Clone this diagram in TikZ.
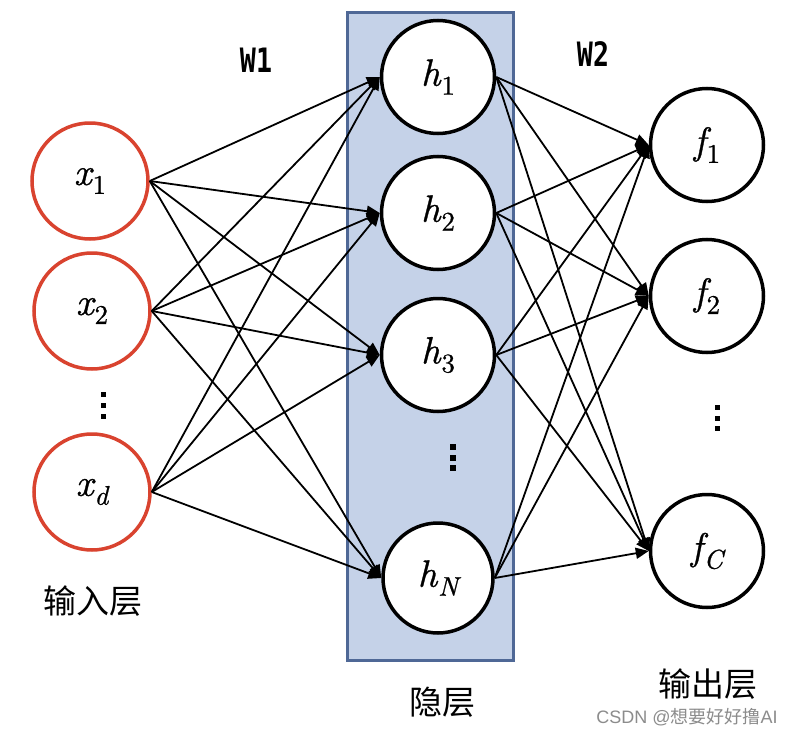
\documentclass[tikz,border=0pt]{standalone}
\usepackage{fontspec}
\newfontfamily\cjk{Noto Sans CJK SC}
\newfontfamily\wfont{DejaVu Sans Mono}
\newfontfamily\wmfont{Liberation Sans}
\newfontfamily\nitfont{lmroman10-italic}[Extension=.otf,FakeBold=0.8]
\newfontfamily\nupfont{lmroman10-regular}[Extension=.otf,FakeBold=0.8]
\usetikzlibrary{arrows.meta}
\definecolor{inred}{RGB}{217,67,47}
\definecolor{boxfill}{RGB}{197,210,232}
\definecolor{boxline}{RGB}{79,104,150}
\newcommand{\nsub}[2]{{\nitfont\fontsize{38}{40}\selectfont #1}\kern1pt\raisebox{-9pt}{\fontsize{27}{29}\selectfont #2}}
\tikzset{
  neuron/.style={circle,draw=black,line width=3.5pt,fill=white,minimum size=113pt,inner sep=0pt,font=\nupfont\fontsize{27}{29}\selectfont},
  inneuron/.style={neuron,draw=inred,minimum size=116pt},
  conn/.style={line width=1.8pt,-{Triangle[length=13pt,width=11pt]}},
  layerlabel/.style={font=\cjk\fontsize{33}{36}\selectfont,inner sep=0pt},
  wlabel/.style={font=\wfont\bfseries\fontsize{28}{30}\selectfont,inner sep=0pt},
  dotsq/.style={fill=black}
}
\begin{document}
\begin{tikzpicture}[x=1pt,y=-1pt]
\useasboundingbox (0,0) rectangle (796,736);
\fill[white] (0,0) rectangle (796,736);
% hidden box
\node[draw=boxline,fill=boxfill,line width=3pt,minimum width=166pt,minimum height=648pt,inner sep=0pt] (box) at (430,336) {};
% nodes
\node[inneuron] (x1) at (90,181) {\nsub{x}{1}};
\node[inneuron] (x2) at (92,311) {\nsub{x}{2}};
\node[inneuron] (xd) at (92,492) {\nsub{x}{\nitfont d}};
\node[neuron] (h1) at (438,77) {\nsub{h}{1}};
\node[neuron] (h2) at (438,213) {\nsub{h}{2}};
\node[neuron] (h3) at (438,355) {\nsub{h}{3}};
\node[neuron,minimum size=110pt] (hN) at (438,578) {\nsub{h}{\nitfont N}};
\node[neuron] (f1) at (707,145) {\nsub{f}{1}};
\node[neuron] (f2) at (707,296) {\nsub{f}{2}};
\node[neuron] (fC) at (707,551) {\nsub{f}{\nitfont C}};
% connectors
\foreach \s in {x1,x2,xd}{
  \foreach \t in {h1,h2,h3,hN}{
    \draw[conn] (\s.east) -- (\t.west);
  }
}
\foreach \s in {h1,h2,h3,hN}{
  \foreach \t in {f1,f2,fC}{
    \draw[conn] (\s.east) -- (\t.west);
  }
}
% ellipses
\foreach \y in {394,405,416}{\fill[dotsq] (100.5,\y-2.5) rectangle (105.5,\y+2.5);}
\foreach \y in {447,457.5,468}{\fill[dotsq] (450,\y-3) rectangle (456,\y+3);}
\foreach \y in {407,418,428}{\fill[dotsq] (714.5,\y-2.5) rectangle (719.5,\y+2.5);}
% labels
\node[wlabel] (w1) at (256,60) {\scalebox{0.95}[1.2]{W1}};
\node[wlabel] (w2) at (593,54) {\scalebox{0.95}[1.2]{W2}};
\node[layerlabel] (lin) at (93,601) {输入层};
\node[layerlabel] (lhid) at (442,702) {隐层};
\node[layerlabel] (lout) at (708,684) {输出层};
\node[font=\wmfont\fontsize{18}{20}\selectfont,text=black!45,inner sep=0pt] (wm) at (687,717) {CSDN @{\cjk 想要好好撸}AI};
\end{tikzpicture}
\end{document}
